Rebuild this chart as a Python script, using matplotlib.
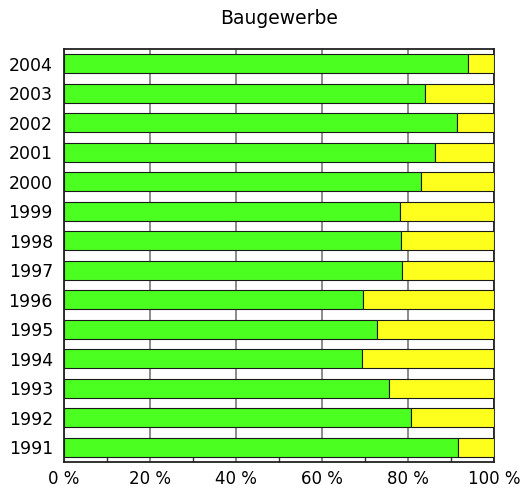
import numpy as np
import matplotlib
matplotlib.use("Agg")
import matplotlib.pyplot as plt
from matplotlib.ticker import MultipleLocator

# Anteile in Prozent (gruen = erster Teil, gelb = Rest)
years = ['1991', '1992', '1993', '1994', '1995', '1996', '1997',
         '1998', '1999', '2000', '2001', '2002', '2003', '2004']
green_share = [91.6, 80.8, 75.5, 69.3, 72.9, 69.6, 78.7,
               78.3, 78.2, 83.0, 86.3, 91.3, 84.0, 93.9]
yellow_share = [100 - g for g in green_share]

plt.rcParams['font.family'] = ['DejaVu Sans']

fig = plt.figure(figsize=(5.22, 4.92), dpi=100)
ax = fig.add_axes([64 / 522, 1 - 462 / 492, 430 / 522, 413 / 492])

pos = np.arange(len(years))
ax.barh(pos, green_share, height=0.66, color='#4bff20', edgecolor='#1a1a1a',
        linewidth=0.8, zorder=3)
ax.barh(pos, yellow_share, left=green_share, height=0.66, color='#ffff1e',
        edgecolor='#1a1a1a', linewidth=0.8, zorder=3)

ax.set_xlim(0, 100)
ax.set_ylim(-0.5, len(years) - 0.5)
ax.set_yticks(pos)
ax.set_yticklabels(years, fontsize=12.5)
ax.tick_params(axis='y', length=0, pad=8)

ax.xaxis.set_major_locator(MultipleLocator(20))
ax.xaxis.set_minor_locator(MultipleLocator(10))
ax.set_xticklabels([f'{int(v)} %' for v in ax.get_xticks()], fontsize=12)
ax.tick_params(axis='x', which='major', direction='in', length=0, pad=6)
ax.tick_params(axis='x', which='minor', direction='in', length=4, width=1,
               color='#333333')
ax.grid(axis='x', which='major', color='#777777', linewidth=1.2, zorder=1)

for s in ax.spines.values():
    s.set_color('#222222')
    s.set_linewidth(1.3)

fig.text(279 / 522, 1 - 19 / 492, 'Baugewerbe', ha='center', va='center',
         fontsize=13.5)

fig.savefig('out.png', dpi=100)
